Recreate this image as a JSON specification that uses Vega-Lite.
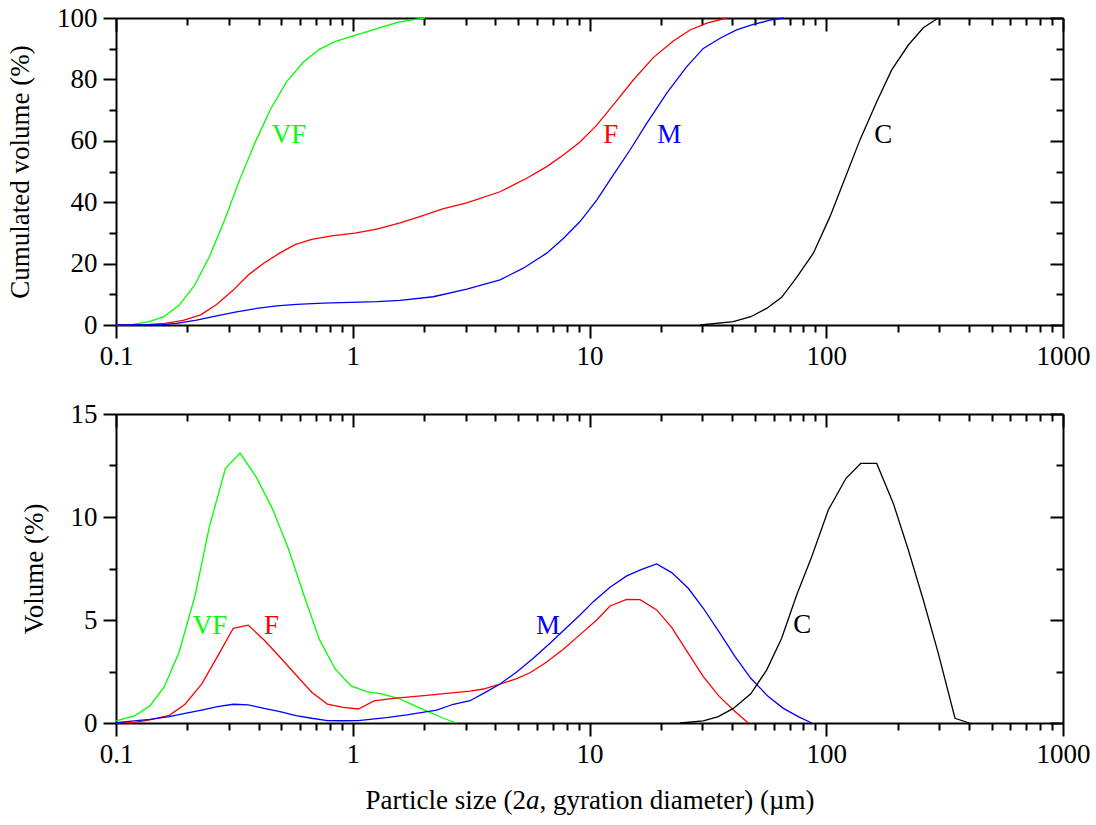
{
  "$schema": "https://vega.github.io/schema/vega-lite/v6.json",
  "padding": {"left": 6, "top": 4, "right": 5, "bottom": 5},
  "config": {
    "font": "Liberation Serif",
    "view": {"stroke": null},
    "axis": {
      "labelFont": "Liberation Serif",
      "labelFontSize": 27,
      "labelColor": "#000000",
      "labelFlush": false,
      "labelOverlap": false,
      "titleFont": "Liberation Serif",
      "titleFontSize": 27,
      "titleFontWeight": "normal",
      "titleColor": "#000000",
      "tickColor": "#000000",
      "tickWidth": 2,
      "domainColor": "#000000",
      "domainWidth": 2,
      "grid": false,
      "labelPadding": 5,
      "zindex": 1
    },
    "text": {"font": "Liberation Serif", "fontSize": 27}
  },
  "datasets": {
    "cum": [
      {"s": "VF", "d": 0.1, "v": 0}, {"s": "VF", "d": 0.1183, "v": 0.2}, {"s": "VF", "d": 0.1382, "v": 1.1}, {"s": "VF", "d": 0.1595, "v": 2.7}, {"s": "VF", "d": 0.185, "v": 6.5}, {"s": "VF", "d": 0.2142, "v": 12.8}, {"s": "VF", "d": 0.248, "v": 22.2}, {"s": "VF", "d": 0.2887, "v": 34.5}, {"s": "VF", "d": 0.334, "v": 47.6}, {"s": "VF", "d": 0.389, "v": 59.9}, {"s": "VF", "d": 0.4516, "v": 70.6}, {"s": "VF", "d": 0.526, "v": 79.3}, {"s": "VF", "d": 0.618, "v": 85.6}, {"s": "VF", "d": 0.7225, "v": 89.8}, {"s": "VF", "d": 0.8414, "v": 92.3}, {"s": "VF", "d": 0.98, "v": 93.9}, {"s": "VF", "d": 1.145, "v": 95.5}, {"s": "VF", "d": 1.346, "v": 97.2}, {"s": "VF", "d": 1.55, "v": 98.6}, {"s": "VF", "d": 1.78, "v": 99.4}, {"s": "VF", "d": 2.02, "v": 100},
      {"s": "F", "d": 0.1, "v": 0}, {"s": "F", "d": 0.138, "v": 0.2}, {"s": "F", "d": 0.161, "v": 0.5}, {"s": "F", "d": 0.192, "v": 1.5}, {"s": "F", "d": 0.228, "v": 3.3}, {"s": "F", "d": 0.266, "v": 6.7}, {"s": "F", "d": 0.311, "v": 11.2}, {"s": "F", "d": 0.362, "v": 16.3}, {"s": "F", "d": 0.422, "v": 20.2}, {"s": "F", "d": 0.493, "v": 23.5}, {"s": "F", "d": 0.57, "v": 26.2}, {"s": "F", "d": 0.671, "v": 27.9}, {"s": "F", "d": 0.815, "v": 29.0}, {"s": "F", "d": 1.02, "v": 29.9}, {"s": "F", "d": 1.263, "v": 31.2}, {"s": "F", "d": 1.584, "v": 33.3}, {"s": "F", "d": 1.92, "v": 35.3}, {"s": "F", "d": 2.4, "v": 37.8}, {"s": "F", "d": 3.03, "v": 39.8}, {"s": "F", "d": 4.188, "v": 43.4}, {"s": "F", "d": 5.43, "v": 47.8}, {"s": "F", "d": 6.596, "v": 51.6}, {"s": "F", "d": 7.75, "v": 55.4}, {"s": "F", "d": 9.12, "v": 59.6}, {"s": "F", "d": 10.73, "v": 65.1}, {"s": "F", "d": 12.61, "v": 71.7}, {"s": "F", "d": 15.31, "v": 79.8}, {"s": "F", "d": 18.6, "v": 87.1}, {"s": "F", "d": 22.6, "v": 92.5}, {"s": "F", "d": 26.6, "v": 96.1}, {"s": "F", "d": 31.3, "v": 98.3}, {"s": "F", "d": 38.0, "v": 100},
      {"s": "M", "d": 0.1, "v": 0}, {"s": "M", "d": 0.161, "v": 0.2}, {"s": "M", "d": 0.18, "v": 0.5}, {"s": "M", "d": 0.219, "v": 1.6}, {"s": "M", "d": 0.266, "v": 3.0}, {"s": "M", "d": 0.323, "v": 4.3}, {"s": "M", "d": 0.393, "v": 5.4}, {"s": "M", "d": 0.477, "v": 6.2}, {"s": "M", "d": 0.579, "v": 6.7}, {"s": "M", "d": 0.751, "v": 7.1}, {"s": "M", "d": 0.974, "v": 7.4}, {"s": "M", "d": 1.263, "v": 7.6}, {"s": "M", "d": 1.584, "v": 8.0}, {"s": "M", "d": 2.189, "v": 9.2}, {"s": "M", "d": 3.03, "v": 11.7}, {"s": "M", "d": 4.188, "v": 14.7}, {"s": "M", "d": 5.25, "v": 18.5}, {"s": "M", "d": 6.596, "v": 23.4}, {"s": "M", "d": 7.75, "v": 28.2}, {"s": "M", "d": 9.12, "v": 33.7}, {"s": "M", "d": 10.73, "v": 40.7}, {"s": "M", "d": 12.61, "v": 48.9}, {"s": "M", "d": 14.83, "v": 57.0}, {"s": "M", "d": 17.44, "v": 65.7}, {"s": "M", "d": 21.2, "v": 75.5}, {"s": "M", "d": 25.7, "v": 84.1}, {"s": "M", "d": 30.25, "v": 90.1}, {"s": "M", "d": 35.6, "v": 93.4}, {"s": "M", "d": 41.8, "v": 96.1}, {"s": "M", "d": 49.2, "v": 97.9}, {"s": "M", "d": 57.9, "v": 99.3}, {"s": "M", "d": 66.0, "v": 100},
      {"s": "C", "d": 29.3, "v": 0}, {"s": "C", "d": 40.5, "v": 1.1}, {"s": "C", "d": 48.0, "v": 2.7}, {"s": "C", "d": 56.0, "v": 5.4}, {"s": "C", "d": 64.8, "v": 9.0}, {"s": "C", "d": 75.0, "v": 15.5}, {"s": "C", "d": 88.2, "v": 23.4}, {"s": "C", "d": 103.7, "v": 35.3}, {"s": "C", "d": 120.0, "v": 47.8}, {"s": "C", "d": 138.8, "v": 60.3}, {"s": "C", "d": 163.4, "v": 72.7}, {"s": "C", "d": 189.0, "v": 83.1}, {"s": "C", "d": 222.2, "v": 91.2}, {"s": "C", "d": 257.0, "v": 96.8}, {"s": "C", "d": 297.4, "v": 100}
    ],
    "vol": [
      {"s": "VF", "d": 0.1, "v": 0.1}, {"s": "VF", "d": 0.1195, "v": 0.34}, {"s": "VF", "d": 0.139, "v": 0.83}, {"s": "VF", "d": 0.16, "v": 1.76}, {"s": "VF", "d": 0.185, "v": 3.46}, {"s": "VF", "d": 0.216, "v": 6.21}, {"s": "VF", "d": 0.248, "v": 9.53}, {"s": "VF", "d": 0.29, "v": 12.36}, {"s": "VF", "d": 0.334, "v": 13.1}, {"s": "VF", "d": 0.39, "v": 11.96}, {"s": "VF", "d": 0.457, "v": 10.42}, {"s": "VF", "d": 0.534, "v": 8.48}, {"s": "VF", "d": 0.622, "v": 6.2}, {"s": "VF", "d": 0.7225, "v": 4.06}, {"s": "VF", "d": 0.844, "v": 2.61}, {"s": "VF", "d": 0.983, "v": 1.8}, {"s": "VF", "d": 1.145, "v": 1.52}, {"s": "VF", "d": 1.326, "v": 1.41}, {"s": "VF", "d": 1.557, "v": 1.2}, {"s": "VF", "d": 1.803, "v": 0.87}, {"s": "VF", "d": 2.085, "v": 0.55}, {"s": "VF", "d": 2.413, "v": 0.23}, {"s": "VF", "d": 2.748, "v": 0},
      {"s": "F", "d": 0.1, "v": 0.01}, {"s": "F", "d": 0.1203, "v": 0.03}, {"s": "F", "d": 0.139, "v": 0.15}, {"s": "F", "d": 0.168, "v": 0.37}, {"s": "F", "d": 0.1956, "v": 0.91}, {"s": "F", "d": 0.23, "v": 1.89}, {"s": "F", "d": 0.268, "v": 3.22}, {"s": "F", "d": 0.313, "v": 4.6}, {"s": "F", "d": 0.362, "v": 4.75}, {"s": "F", "d": 0.422, "v": 4.03}, {"s": "F", "d": 0.493, "v": 3.19}, {"s": "F", "d": 0.576, "v": 2.33}, {"s": "F", "d": 0.671, "v": 1.49}, {"s": "F", "d": 0.781, "v": 0.92}, {"s": "F", "d": 0.912, "v": 0.76}, {"s": "F", "d": 1.056, "v": 0.68}, {"s": "F", "d": 1.23, "v": 1.07}, {"s": "F", "d": 1.484, "v": 1.2}, {"s": "F", "d": 2.053, "v": 1.34}, {"s": "F", "d": 3.127, "v": 1.55}, {"s": "F", "d": 3.561, "v": 1.65}, {"s": "F", "d": 4.188, "v": 1.89}, {"s": "F", "d": 4.926, "v": 2.15}, {"s": "F", "d": 5.606, "v": 2.44}, {"s": "F", "d": 6.596, "v": 2.96}, {"s": "F", "d": 7.75, "v": 3.58}, {"s": "F", "d": 9.12, "v": 4.29}, {"s": "F", "d": 10.73, "v": 5.0}, {"s": "F", "d": 12.21, "v": 5.68}, {"s": "F", "d": 14.36, "v": 6.0}, {"s": "F", "d": 16.35, "v": 5.99}, {"s": "F", "d": 19.22, "v": 5.49}, {"s": "F", "d": 22.24, "v": 4.64}, {"s": "F", "d": 26.14, "v": 3.38}, {"s": "F", "d": 30.25, "v": 2.25}, {"s": "F", "d": 35.0, "v": 1.34}, {"s": "F", "d": 40.5, "v": 0.63}, {"s": "F", "d": 46.86, "v": 0},
      {"s": "M", "d": 0.1, "v": 0.02}, {"s": "M", "d": 0.139, "v": 0.18}, {"s": "M", "d": 0.168, "v": 0.31}, {"s": "M", "d": 0.1956, "v": 0.47}, {"s": "M", "d": 0.23, "v": 0.63}, {"s": "M", "d": 0.268, "v": 0.79}, {"s": "M", "d": 0.313, "v": 0.91}, {"s": "M", "d": 0.362, "v": 0.88}, {"s": "M", "d": 0.422, "v": 0.71}, {"s": "M", "d": 0.493, "v": 0.55}, {"s": "M", "d": 0.576, "v": 0.36}, {"s": "M", "d": 0.671, "v": 0.23}, {"s": "M", "d": 0.781, "v": 0.12}, {"s": "M", "d": 0.912, "v": 0.11}, {"s": "M", "d": 1.056, "v": 0.12}, {"s": "M", "d": 1.183, "v": 0.18}, {"s": "M", "d": 1.391, "v": 0.26}, {"s": "M", "d": 1.69, "v": 0.39}, {"s": "M", "d": 2.262, "v": 0.63}, {"s": "M", "d": 2.659, "v": 0.91}, {"s": "M", "d": 3.127, "v": 1.08}, {"s": "M", "d": 3.68, "v": 1.52}, {"s": "M", "d": 4.188, "v": 1.89}, {"s": "M", "d": 4.926, "v": 2.48}, {"s": "M", "d": 5.79, "v": 3.14}, {"s": "M", "d": 6.81, "v": 3.87}, {"s": "M", "d": 8.01, "v": 4.64}, {"s": "M", "d": 9.12, "v": 5.24}, {"s": "M", "d": 10.38, "v": 5.89}, {"s": "M", "d": 12.21, "v": 6.59}, {"s": "M", "d": 14.36, "v": 7.14}, {"s": "M", "d": 16.62, "v": 7.46}, {"s": "M", "d": 19.22, "v": 7.72}, {"s": "M", "d": 22.24, "v": 7.3}, {"s": "M", "d": 26.14, "v": 6.54}, {"s": "M", "d": 30.25, "v": 5.57}, {"s": "M", "d": 35.6, "v": 4.35}, {"s": "M", "d": 41.2, "v": 3.22}, {"s": "M", "d": 48.0, "v": 2.17}, {"s": "M", "d": 56.9, "v": 1.28}, {"s": "M", "d": 65.9, "v": 0.71}, {"s": "M", "d": 76.2, "v": 0.31}, {"s": "M", "d": 86.8, "v": 0},
      {"s": "C", "d": 24.1, "v": 0}, {"s": "C", "d": 30.25, "v": 0.1}, {"s": "C", "d": 35.0, "v": 0.31}, {"s": "C", "d": 40.5, "v": 0.71}, {"s": "C", "d": 48.0, "v": 1.42}, {"s": "C", "d": 56.0, "v": 2.57}, {"s": "C", "d": 64.8, "v": 4.11}, {"s": "C", "d": 75.0, "v": 6.21}, {"s": "C", "d": 86.8, "v": 8.07}, {"s": "C", "d": 102.0, "v": 10.34}, {"s": "C", "d": 121.2, "v": 11.88}, {"s": "C", "d": 139.8, "v": 12.6}, {"s": "C", "d": 163.4, "v": 12.6}, {"s": "C", "d": 192.0, "v": 10.66}, {"s": "C", "d": 222.2, "v": 8.4}, {"s": "C", "d": 257.0, "v": 5.97}, {"s": "C", "d": 297.4, "v": 3.38}, {"s": "C", "d": 349.8, "v": 0.23}, {"s": "C", "d": 402.0, "v": 0}
    ],
    "labcum": [
      {"s": "VF", "d": 0.4547, "v": 59.2}, {"s": "F", "d": 11.44, "v": 59.2}, {"s": "M", "d": 19.34, "v": 59.2}, {"s": "C", "d": 159.5, "v": 59.2}
    ],
    "labvol": [
      {"s": "VF", "d": 0.2109, "v": 4.32}, {"s": "F", "d": 0.422, "v": 4.32}, {"s": "M", "d": 5.943, "v": 4.32}, {"s": "C", "d": 72.6, "v": 4.35}
    ]
  },
  "spacing": 89,
  "bounds": "flush",
  "vconcat": [
    {
      "width": 947,
      "height": 307,
      "resolve": {"axis": {"x": "independent", "y": "independent"}},
      "layer": [
        {
          "data": {"name": "cum"},
          "mark": {"type": "line", "strokeWidth": 1.3},
          "encoding": {
            "x": {"field": "d", "type": "quantitative", "scale": {"type": "log", "domain": [0.1, 1000], "nice": false},
              "axis": {"orient": "bottom", "values": [0.1, 1, 10, 100, 1000], "format": "~g", "tickSize": 13, "title": null}},
            "y": {"field": "v", "type": "quantitative", "scale": {"domain": [0, 100], "nice": false},
              "axis": {"orient": "left", "values": [0, 20, 40, 60, 80, 100], "tickSize": 13, "labelPadding": 6, "title": "Cumulated volume (%)", "titlePadding": 22}},
            "color": {"field": "s", "type": "nominal", "scale": {"domain": ["VF", "F", "M", "C"], "range": ["#00ff00", "#ff0000", "#0000ff", "#000000"]}, "legend": null}
          }
        },
        {
          "data": {"name": "cum"},
          "mark": {"type": "line", "opacity": 0},
          "encoding": {
            "x": {"field": "d", "type": "quantitative", "axis": {"orient": "bottom", "values": [0.2, 0.3, 0.4, 0.5, 0.6, 0.7, 0.8, 0.9, 2, 3, 4, 5, 6, 7, 8, 9, 20, 30, 40, 50, 60, 70, 80, 90, 200, 300, 400, 500, 600, 700, 800, 900], "labels": false, "domain": false, "tickSize": 7, "title": null}},
            "y": {"field": "v", "type": "quantitative", "axis": {"orient": "left", "values": [10, 30, 50, 70, 90], "labels": false, "domain": false, "tickSize": 7, "title": null}}
          }
        },
        {
          "data": {"name": "cum"},
          "mark": {"type": "line", "opacity": 0},
          "encoding": {
            "x": {"field": "d", "type": "quantitative", "axis": {"orient": "top", "values": [0.1, 1, 10, 100, 1000], "labels": false, "tickSize": -13, "title": null}},
            "y": {"field": "v", "type": "quantitative", "axis": {"orient": "right", "values": [0, 20, 40, 60, 80, 100], "labels": false, "tickSize": -13, "title": null}}
          }
        },
        {
          "data": {"name": "cum"},
          "mark": {"type": "line", "opacity": 0},
          "encoding": {
            "x": {"field": "d", "type": "quantitative", "axis": {"orient": "top", "values": [0.2, 0.3, 0.4, 0.5, 0.6, 0.7, 0.8, 0.9, 2, 3, 4, 5, 6, 7, 8, 9, 20, 30, 40, 50, 60, 70, 80, 90, 200, 300, 400, 500, 600, 700, 800, 900], "labels": false, "domain": false, "tickSize": -7, "title": null}},
            "y": {"field": "v", "type": "quantitative", "axis": {"orient": "right", "values": [10, 30, 50, 70, 90], "labels": false, "domain": false, "tickSize": -7, "title": null}}
          }
        },
        {
          "data": {"name": "labcum"},
          "mark": {"type": "text", "align": "left", "baseline": "alphabetic"},
          "encoding": {
            "x": {"field": "d", "type": "quantitative", "axis": null},
            "y": {"field": "v", "type": "quantitative", "axis": null},
            "text": {"field": "s"},
            "color": {"field": "s", "type": "nominal", "legend": null}
          }
        }
      ]
    },
    {
      "width": 947,
      "height": 309,
      "resolve": {"axis": {"x": "independent", "y": "independent"}},
      "layer": [
        {
          "data": {"name": "vol"},
          "mark": {"type": "line", "strokeWidth": 1.3},
          "encoding": {
            "x": {"field": "d", "type": "quantitative", "scale": {"type": "log", "domain": [0.1, 1000], "nice": false},
              "axis": {"orient": "bottom", "values": [0.1, 1, 10, 100, 1000], "format": "~g", "tickSize": 13, "title": "Particle size (2", "titleAnchor": "start", "titleAlign": "left", "titleBaseline": "alphabetic", "titleX": 249, "titleY": 85}},
            "y": {"field": "v", "type": "quantitative", "scale": {"domain": [0, 15], "nice": false},
              "axis": {"orient": "left", "values": [0, 5, 10, 15], "tickSize": 13, "labelPadding": 6, "title": "Volume (%)", "titlePadding": 22}},
            "color": {"field": "s", "type": "nominal", "scale": {"domain": ["VF", "F", "M", "C"], "range": ["#00ff00", "#ff0000", "#0000ff", "#000000"]}, "legend": null}
          }
        },
        {
          "data": {"name": "vol"},
          "mark": {"type": "line", "opacity": 0},
          "encoding": {
            "x": {"field": "d", "type": "quantitative", "axis": {"orient": "bottom", "values": [0.2, 0.3, 0.4, 0.5, 0.6, 0.7, 0.8, 0.9, 2, 3, 4, 5, 6, 7, 8, 9, 20, 30, 40, 50, 60, 70, 80, 90, 200, 300, 400, 500, 600, 700, 800, 900], "labels": false, "domain": false, "tickSize": 7, "title": "a", "titleFontStyle": "italic", "titleAnchor": "start", "titleAlign": "left", "titleBaseline": "alphabetic", "titleX": 409.5, "titleY": 85}},
            "y": {"field": "v", "type": "quantitative", "axis": {"orient": "left", "values": [2.5, 7.5, 12.5], "labels": false, "domain": false, "tickSize": 7, "title": null}}
          }
        },
        {
          "data": {"name": "vol"},
          "mark": {"type": "line", "opacity": 0},
          "encoding": {
            "x": {"field": "d", "type": "quantitative", "axis": {"orient": "top", "values": [0.1, 1, 10, 100, 1000], "labels": false, "tickSize": -13, "title": null}},
            "y": {"field": "v", "type": "quantitative", "axis": {"orient": "right", "values": [0, 5, 10, 15], "labels": false, "tickSize": -13, "title": null}}
          }
        },
        {
          "data": {"name": "vol"},
          "mark": {"type": "line", "opacity": 0},
          "encoding": {
            "x": {"field": "d", "type": "quantitative", "axis": {"orient": "top", "values": [0.2, 0.3, 0.4, 0.5, 0.6, 0.7, 0.8, 0.9, 2, 3, 4, 5, 6, 7, 8, 9, 20, 30, 40, 50, 60, 70, 80, 90, 200, 300, 400, 500, 600, 700, 800, 900], "labels": false, "domain": false, "tickSize": -7, "title": null}},
            "y": {"field": "v", "type": "quantitative", "axis": {"orient": "right", "values": [2.5, 7.5, 12.5], "labels": false, "domain": false, "tickSize": -7, "title": null}}
          }
        },
        {
          "data": {"name": "vol"},
          "mark": {"type": "line", "opacity": 0},
          "encoding": {
            "x": {"field": "d", "type": "quantitative", "axis": {"orient": "bottom", "values": [], "labels": false, "ticks": false, "domain": false, "title": ", gyration diameter) (µm)", "titleAnchor": "start", "titleAlign": "left", "titleBaseline": "alphabetic", "titleX": 423, "titleY": 85}},
            "y": {"field": "v", "type": "quantitative", "axis": null}
          }
        },
        {
          "data": {"name": "labvol"},
          "mark": {"type": "text", "align": "left", "baseline": "alphabetic"},
          "encoding": {
            "x": {"field": "d", "type": "quantitative", "axis": null},
            "y": {"field": "v", "type": "quantitative", "axis": null},
            "text": {"field": "s"},
            "color": {"field": "s", "type": "nominal", "legend": null}
          }
        }
      ]
    }
  ]
}
